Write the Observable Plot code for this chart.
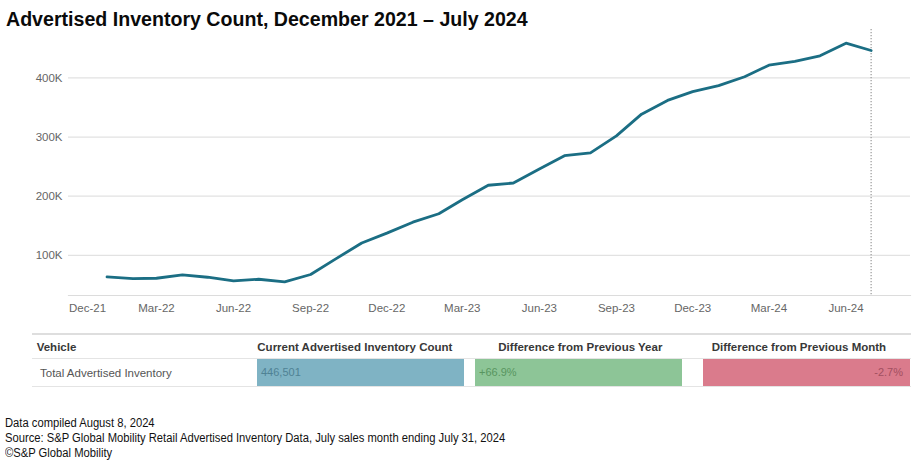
<!DOCTYPE html>
<html>
<head>
<meta charset="utf-8">
<script src="https://cdn.jsdelivr.net/npm/d3@7"></script>
<script src="https://cdn.jsdelivr.net/npm/@observablehq/plot@0.6"></script>
<style>
  body { margin: 0; background: #fff; }
  #wrap { position: relative; width: 918px; height: 466px; overflow: hidden;
          font-family: "Liberation Sans", Arial, sans-serif; }
  #title { position: absolute; left: 6px; top: 9px; font-size: 19.6px; line-height: 20px;
           font-weight: bold; color: #0a0a0a; white-space: nowrap; }
  #chart { position: absolute; left: 0; top: 28px; }
  .rule { position: absolute; left: 32px; width: 879px; height: 1px; background: #e4e4e4; }
  .hdr { position: absolute; top: 339.8px; font-size: 11.5px; line-height: 14px; font-weight: bold;
         color: #383838; white-space: nowrap; }
  .rowlabel { position: absolute; top: 365.8px; left: 40px; font-size: 11.5px; line-height: 14px;
              color: #555; white-space: nowrap; }
  .cell { position: absolute; top: 359px; height: 27px; width: 207px; box-sizing: border-box;
          font-size: 11px; line-height: 27px; white-space: nowrap; padding: 0 4px; }
  #foot { position: absolute; left: 5px; top: 415.5px; font-size: 12.5px; line-height: 15px;
          color: #111; white-space: nowrap; transform: scaleX(0.897); transform-origin: 0 0; }
</style>
</head>
<body>
<div id="wrap">
  <div id="title"></div>
  <div id="chart"></div>
  <div id="table"></div>
  <div id="foot"></div>
</div>
<script>
// ---- data ----
const titleText = "Advertised Inventory Count, December 2021 \u2013 July 2024";
const months = ["Jan-22","Feb-22","Mar-22","Apr-22","May-22","Jun-22","Jul-22","Aug-22","Sep-22","Oct-22","Nov-22","Dec-22",
                "Jan-23","Feb-23","Mar-23","Apr-23","May-23","Jun-23","Jul-23","Aug-23","Sep-23","Oct-23","Nov-23","Dec-23",
                "Jan-24","Feb-24","Mar-24","Apr-24","May-24","Jun-24","Jul-24"];
const inventory = [63400, 60700, 61200, 66800, 62900, 56700, 59500, 55000, 67500, 94000, 120700, 137500,
                   156000, 170300, 194000, 218500, 222300, 246000, 268600, 273300, 302000, 338800, 362000, 376800,
                   387000, 402000, 421600, 428000, 437500, 458900, 446501];
const xTickLabels = ["Dec-21","Mar-22","Jun-22","Sep-22","Dec-22","Mar-23","Jun-23","Sep-23","Dec-23","Mar-24","Jun-24"];
const yTickValues = [100000, 200000, 300000, 400000];
const xDomain = ["2021-11-16", "2024-08-17"];
const yDomain = [32000, 482000];

const tableHeaders = ["Vehicle", "Current Advertised Inventory Count", "Difference from Previous Year", "Difference from Previous Month"];
const tableRowLabel = "Total Advertised Inventory";
const tableValues = ["446,501", "+66.9%", "-2.7%"];

const footLines = ["Data compiled August 8, 2024",
                   "Source: S&P Global Mobility Retail Advertised Inventory Data, July sales month ending July 31, 2024",
                   "\u00a9S&P Global Mobility"];

// ---- title ----
document.getElementById("title").textContent = titleText;

// ---- chart ----
const parse = d3.utcParse("%b-%y");
const fmtX = d3.utcFormat("%b-%y");
const data = months.map((m, i) => ({date: parse(m), value: inventory[i]}));
const xTicks = xTickLabels.map(parse);

const chart = Plot.plot({
  width: 918,
  height: 292,
  marginLeft: 68,
  marginRight: 8,
  marginTop: 1,
  marginBottom: 25,
  style: {fontFamily: '"Liberation Sans", Arial, sans-serif', fontSize: "11.5px", color: "#666", background: "transparent"},
  x: {type: "utc", domain: xDomain.map(d => new Date(d))},
  y: {domain: yDomain},
  marks: [
    Plot.gridY(yTickValues, {stroke: "#e2e2e2", strokeOpacity: 1, strokeWidth: 1.2}),
    Plot.frame({anchor: "bottom", stroke: "#dcdcdc", strokeWidth: 1.2}),
    Plot.axisY(yTickValues, {tickSize: 0, tickPadding: 6, tickFormat: d => `${d / 1000}K`, label: null}),
    Plot.axisX(xTicks.slice(1), {tickSize: 0, tickPadding: 8, tickFormat: fmtX, label: null}),
    Plot.axisX(xTicks.slice(0, 1), {tickSize: 0, tickPadding: 8, tickFormat: fmtX, textAnchor: "start", dx: -12, label: null}),
    Plot.ruleX(data.slice(-1), {x: "date", stroke: "#a0a0a0", strokeWidth: 1.3, strokeDasharray: "1.3,1.7"}),
    Plot.lineY(data, {x: "date", y: "value", stroke: "#1b6e84", strokeWidth: 2.8, strokeLinejoin: "round", strokeLinecap: "round"})
  ]
});
document.getElementById("chart").appendChild(chart);

// ---- table ----
const table = document.getElementById("table");
function add(cls, style, text) {
  const d = document.createElement("div");
  d.className = cls;
  Object.assign(d.style, style);
  if (text != null) d.textContent = text;
  table.appendChild(d);
  return d;
}
add("rule", {top: "333px", height: "2px", background: "#dedede"});
add("rule", {top: "358px"});
add("rule", {top: "386px"});
const hdrLeft = [36.7, 257.3, 498.3, 711.7];
tableHeaders.forEach((h, i) => add("hdr", {left: hdrLeft[i] + "px"}, h));
add("rowlabel", {}, tableRowLabel);
const cellStyles = [
  {left: "257px", background: "#7fb3c4", color: "#4f8294"},
  {left: "475px", background: "#8dc597", color: "#58955f"},
  {left: "703px", background: "#da7b8c", color: "#a24f60", textAlign: "right", paddingRight: "7px"}
];
tableValues.forEach((v, i) => add("cell", cellStyles[i], v));

// ---- footer ----
document.getElementById("foot").innerHTML = footLines.map(t => `<div>${t.replace(/&/g, "&amp;")}</div>`).join("");
</script>
</body>
</html>
